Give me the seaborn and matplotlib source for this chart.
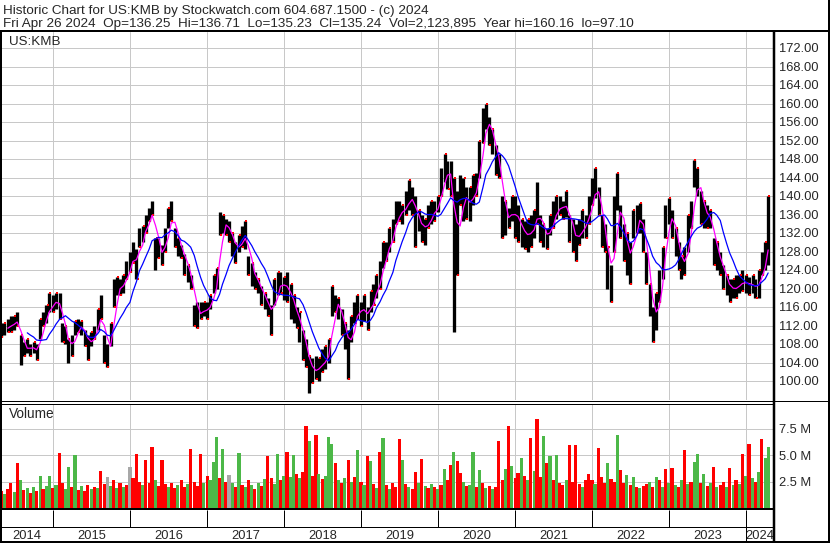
import numpy as np
import pandas as pd
import matplotlib
matplotlib.use("Agg")
import matplotlib.pyplot as plt
import matplotlib.dates as mdates
from matplotlib.ticker import FormatStrFormatter
import seaborn as sns

# half-monthly price range (1st and 15th of each month)
start = "2014-05-01"
hi_2014 = [112.5, 112.5, 113.5, 114, 114, 115, 110, 108.5, 109, 108, 108.5, 108, 113.5, 115, 116.5, 119]
lo_2014 = [109.5, 110, 110.5, 110.5, 111, 112, 103.5, 105.5, 106, 105.5, 106, 104.5, 109, 112, 112.5, 115]
hi_2015 = [118.5, 119, 119, 112.5, 112, 109, 110, 113, 113.5, 113, 111, 110, 110.5, 112, 115.5, 118.5, 110, 108, 112.5, 122, 122.5, 122, 123, 126]
lo_2015 = [115, 115.5, 113.5, 108.5, 108, 104, 105.5, 110, 110.5, 110, 107.5, 104.5, 107.5, 109, 111, 113.5, 104, 103, 107.5, 116, 118.5, 118.5, 119, 122]
hi_2016 = [128, 130, 128.5, 133, 133.5, 136, 137.5, 139, 131, 131, 129.5, 133, 137.5, 139, 133, 131, 129.5, 127.5, 125, 123, 116.5, 117, 117, 117]
lo_2016 = [123.5, 125.5, 122, 129, 130, 132, 134.5, 136, 124, 126.5, 125, 128, 133, 134.5, 129, 127, 126.5, 123, 121.5, 120, 112, 111.5, 113.5, 114]
hi_2017 = [117, 118.5, 123, 124.5, 136.5, 136, 135, 134.5, 132, 130, 131.5, 133.5, 134.5, 127, 125.5, 123.5, 122, 120.5, 119, 118, 116.5, 122, 123.5, 123.5]
lo_2017 = [113.5, 115.5, 119, 120, 131.5, 132, 131.5, 130, 127, 125.5, 128, 129, 128.5, 123, 120.5, 120, 119, 116.5, 115.5, 114, 110, 116.5, 118.5, 119]
hi_2018 = [122.5, 123.5, 121, 118.5, 116, 115, 111, 109, 105.5, 105, 105.5, 105, 107, 107.5, 109, 120.5, 118.5, 118, 115.5, 112.5, 111, 114, 117, 118.5]
lo_2018 = [117.5, 117, 113.5, 112.5, 111.5, 108.5, 104.5, 103, 97.5, 99.5, 100.5, 100, 102, 102.5, 104, 114, 115, 113.5, 110, 107, 100.5, 108.5, 112.5, 113.5]
hi_2019 = [117, 118.5, 116, 119.5, 121, 123, 126, 130, 130, 133, 135, 139, 139, 138, 141, 143.5, 142, 140, 137, 136, 135, 138, 139, 139]
lo_2019 = [112, 113, 111, 115, 116.5, 118, 120, 124.5, 126, 128, 130, 134, 134.5, 134, 136, 137, 136, 129, 132.5, 130, 129.5, 133, 134, 134.5]
hi_2020 = [140, 146, 149, 147.5, 147.5, 144, 141, 144.5, 144, 142, 142, 144.5, 145, 152, 159, 160, 157, 154.5, 151, 149, 140, 139, 137.5, 140]
lo_2020 = [136.5, 140, 143, 141.5, 140, 110.5, 123, 138, 134.5, 135, 134.5, 138, 140, 144, 151.5, 154.5, 151, 149, 144.5, 144, 131, 131.5, 133, 134.5]
hi_2021 = [140, 138, 135, 134.5, 135, 136, 137, 143, 136, 134, 133, 136, 139, 140, 140, 139, 141, 136, 135, 134, 135, 137, 136, 140]
lo_2021 = [131, 130, 129, 128.5, 128, 129, 131, 134, 130, 129, 128.5, 131.5, 133, 135, 136, 135, 135.5, 130, 128, 126, 129.5, 131, 131, 134]
hi_2022 = [144, 146, 142, 136, 134, 129, 125, 140, 145, 138, 134, 132, 130, 137, 138, 138.5, 135, 128, 121, 116, 119, 124, 129, 138]
lo_2022 = [138, 139.5, 136, 129, 128, 120, 117, 128, 137, 131, 126, 123, 121, 131, 132, 132, 128, 121, 114, 108.5, 111, 117, 122, 131]
hi_2023 = [139.5, 137, 133, 130, 127, 129, 136, 139, 147.8, 146, 141, 139, 138, 137, 131, 130, 128, 125, 123, 122, 122, 123, 123, 124]
lo_2023 = [134, 131, 127, 124, 122, 123, 128, 133, 142, 140, 134, 133, 133, 133, 125, 124, 123, 120, 118.5, 117, 118, 118, 119, 119.5]
hi_2024 = [123, 122.5, 123, 122, 124, 128, 130, 140]
lo_2024 = [119, 118.5, 119, 118, 118, 123, 124, 125]

# volume in millions, same half-monthly steps; r = down, g = up, x = unchanged
vol_2014 = [1.6, 1.3, 1.8, 2.4, 1.5, 4.2, 2.6, 1.7, 1.9, 1.4, 2.0, 1.6, 3.0, 1.8, 2.1, 3.0]
vol_2015 = [1.9, 2.2, 5.2, 2.4, 1.8, 3.9, 2.0, 5.0, 1.7, 2.1, 1.6, 2.2, 1.8, 2.0, 1.9, 3.5, 2.3, 2.9, 2.1, 2.6, 1.9, 2.4, 2.0, 2.2]
vol_2016 = [3.9, 2.8, 5.1, 2.5, 2.2, 4.5, 2.4, 5.8, 2.6, 2.1, 4.5, 2.3, 2.0, 2.4, 1.9, 2.2, 2.6, 2.0, 2.3, 5.6, 2.5, 2.1, 5.1, 2.4]
vol_2017 = [3.0, 2.6, 4.3, 6.7, 2.8, 5.6, 2.5, 3.1, 2.4, 2.0, 5.2, 2.2, 2.0, 2.6, 2.2, 1.8, 2.4, 2.1, 2.7, 4.9, 2.8, 2.3, 5.1, 2.6]
vol_2018 = [3.0, 5.3, 2.9, 5.0, 3.2, 2.8, 3.4, 7.7, 6.3, 3.0, 6.9, 3.2, 2.7, 3.0, 6.7, 6.0, 4.2, 2.6, 2.4, 2.8, 4.5, 2.5, 2.9, 5.5]
vol_2019 = [2.5, 2.2, 4.9, 4.4, 2.3, 1.9, 5.3, 6.6, 2.2, 1.8, 2.4, 2.0, 6.5, 4.5, 2.3, 2.0, 1.8, 3.4, 2.4, 4.6, 2.1, 1.9, 2.3, 2.0]
vol_2020 = [1.8, 2.2, 3.7, 2.6, 4.1, 5.3, 4.4, 3.3, 2.5, 2.1, 2.2, 5.3, 2.0, 3.6, 2.4, 1.9, 2.1, 1.8, 2.0, 6.3, 2.6, 3.7, 7.7, 4.0]
vol_2021 = [2.8, 3.3, 4.7, 3.0, 2.6, 6.6, 3.5, 8.4, 2.9, 6.8, 4.2, 4.9, 2.6, 5.0, 2.4, 2.2, 2.6, 5.9, 2.5, 5.9, 2.3, 2.0, 2.6, 3.2]
vol_2022 = [2.6, 2.3, 5.7, 2.9, 2.4, 4.2, 2.7, 2.5, 6.9, 3.6, 2.4, 3.1, 2.2, 2.9, 2.0, 1.9, 2.1, 2.3, 2.5, 2.0, 2.9, 2.6, 2.0, 3.7]
vol_2023 = [2.4, 3.8, 2.2, 2.0, 2.6, 5.5, 2.3, 2.5, 4.3, 5.1, 2.4, 3.2, 2.1, 2.4, 3.9, 2.0, 2.2, 2.5, 2.0, 3.8, 2.2, 2.6, 2.3, 5.1]
vol_2024 = [3.0, 6.0, 2.8, 2.5, 3.4, 6.5, 4.7, 5.75]
vol_dir = ("rgrrgrgrgrgrgrgg"
           "rgrrggrgrgrrgrgrrxgrgrgr"
           "xrrrgrrrgrrrgrrgrrgrrrrg"
           "rgggrgrxgrgrgrgrgrgrrggr"
           "grggrgrrgrrgrgggrgrgrgrg"
           "rgrgrgrgrgrrrgrgrrgrgrgr"
           "grgrrgrrgrggrgrgrgrrrgrg"
           "rrgrgrgrrgrgrgrrgrrrrgrr"
           "rgrrrgrrgrrgrgrgrrgrgrgr"
           "grgrgrgrggrgrgrgrrgrgrgr"
           "grgrgrgg")

hi = hi_2014 + hi_2015 + hi_2016 + hi_2017 + hi_2018 + hi_2019 + hi_2020 + hi_2021 + hi_2022 + hi_2023 + hi_2024
lo = lo_2014 + lo_2015 + lo_2016 + lo_2017 + lo_2018 + lo_2019 + lo_2020 + lo_2021 + lo_2022 + lo_2023 + lo_2024
vol = vol_2014 + vol_2015 + vol_2016 + vol_2017 + vol_2018 + vol_2019 + vol_2020 + vol_2021 + vol_2022 + vol_2023 + vol_2024

dates = pd.date_range(start, periods=len(hi), freq="SMS")
df = pd.DataFrame({"date": mdates.date2num(dates.to_pydatetime()), "hi": hi, "lo": lo, "vol": vol,
                   "dir": list(vol_dir)})
df["mid"] = (df["hi"] + df["lo"]) / 2
df["ma_short"] = df["mid"].rolling(3).mean()
df["ma_long"] = df["mid"].rolling(9).mean()
# close tick: bottom of the range on down periods, top on up periods
df["close"] = np.where(df["dir"] == "g", df["hi"], df["lo"])

sns.set_style("white")
plt.rcParams["font.family"] = ["Liberation Sans", "DejaVu Sans"]

W, H = 830, 543
fig = plt.figure(figsize=(W / 100, H / 100), dpi=100)


def box(x0, y0, x1, y1):
    return [x0 / W, 1 - y1 / H, (x1 - x0) / W, (y1 - y0) / H]


# x scale: 2015 starts at pixel 53, 2024 at pixel 746
t15 = pd.Timestamp("2015-01-01")
t24 = pd.Timestamp("2024-01-01")
ppd = (746 - 53) / (t24 - t15).days
xlim = (mdates.date2num(t15 - pd.Timedelta(days=53 / ppd)),
        mdates.date2num(t24 + pd.Timedelta(days=28 / ppd)))
years = list(range(2015, 2025))
year_x = [mdates.date2num(pd.Timestamp(f"{y}-01-01")) for y in years]

grid_c = "#c8c8c8"
px = 0.72  # points per pixel

# ---- price panel
ax = fig.add_axes(box(0, 32, 774, 400))
ax.set_xlim(xlim)
ax.set_ylim(172 - (400 - 48) / 4.625, 172 + 16 / 4.625)
ax.set_yticks(np.arange(100, 173, 4))
ax.yaxis.set_major_formatter(FormatStrFormatter("%.2f"))
ax.yaxis.tick_right()
ax.set_xticks(year_x)
ax.tick_params(axis="y", length=0, pad=3.5, labelsize=9.3)
ax.tick_params(axis="x", length=0, labelbottom=False)
ax.grid(True, color=grid_c, lw=px)
ax.set_axisbelow(True)
for s in ax.spines.values():
    s.set_visible(False)

ax.vlines(df["date"], df["lo"], df["hi"], color="black", lw=3.3 * px)
ax.scatter(df["date"] + 5, df["close"], marker="s", s=2.2, color="#ff0000", lw=0, zorder=3)
sns.lineplot(data=df.dropna(subset=["ma_short"]), x="date", y="ma_short", color="#ff00ff",
             lw=0.9, ax=ax, estimator=None, zorder=4)
sns.lineplot(data=df.dropna(subset=["ma_long"]), x="date", y="ma_long", color="#0000ff",
             lw=0.9, ax=ax, estimator=None, zorder=5)
ax.set_xlabel("")
ax.set_ylabel("")
ax.text(9 / 774, 1 - 13 / 368, "US:KMB", transform=ax.transAxes, fontsize=9.6, va="baseline")

# ---- volume panel
axv = fig.add_axes(box(0, 404, 774, 508))
axv.set_xlim(xlim)
axv.set_ylim(0, 104 / 10.6)
colors = {"r": "#ff0000", "g": "#4cb848", "x": "#a8a8a8"}
axv.bar(df["date"], df["vol"], width=15.2, color=[colors[c] for c in df["dir"]], lw=0)
axv.set_yticks([2.5, 5.0, 7.5])
axv.set_yticklabels(["2.5 M", "5.0 M", "7.5 M"])
axv.yaxis.tick_right()
axv.set_xticks(year_x)
axv.tick_params(axis="y", length=0, pad=3.5, labelsize=9.3)
axv.tick_params(axis="x", length=0, labelbottom=False)
axv.grid(True, color=grid_c, lw=px)
axv.set_axisbelow(True)
for s in axv.spines.values():
    s.set_visible(False)
axv.text(9 / 774, 1 - 14 / 104, "Volume", transform=axv.transAxes, fontsize=9.8, va="baseline")

# ---- year strip
axy = fig.add_axes(box(0, 509, 774, 542))
axy.set_xlim(xlim)
axy.set_ylim(542, 509)
axy.axis("off")
axy.vlines(year_x, 510, 527, color="black", lw=1 * px)
axy.vlines(year_x[-1], 527, 541, color="black", lw=1 * px)
edges = [xlim[0]] + year_x + [xlim[1]]
for y, a, b in zip([2014] + years, edges[:-1], edges[1:]):
    axy.text((a + b) / 2, 539, str(y), ha="center", va="baseline", fontsize=9.3)

# ---- frame lines and header
fr = fig.add_axes([0, 0, 1, 1], zorder=10)
fr.set_xlim(0, W)
fr.set_ylim(H, 0)
fr.axis("off")


def hline(y, x0, x1, w=1):
    fr.plot([x0, x1], [y, y], color="black", lw=w * px, solid_capstyle="butt")


def vline(x, y0, y1, w=1):
    fr.plot([x, x], [y0, y1], color="black", lw=w * px, solid_capstyle="butt")


hline(31, 0, W, 2)
hline(400.5, 0, W, 1)
hline(403.5, 0, 774, 1)
hline(509, 0, 774, 2)
hline(527, 0, 774, 1)
hline(541.5, 0, W, 2)
vline(1, 31, 543, 2)
vline(774, 31, 542, 2.5)
vline(829, 0, 543, 2)

fr.text(3, 14, "Historic Chart for US:KMB by Stockwatch.com 604.687.1500 - (c) 2024",
        fontsize=9.7, va="baseline")
fr.text(3, 27, "Fri Apr 26 2024  Op=136.25  Hi=136.71  Lo=135.23  Cl=135.24  Vol=2,123,895  "
        "Year hi=160.16  lo=97.10", fontsize=9.7, va="baseline")

fig.savefig("out.png", dpi=100)
